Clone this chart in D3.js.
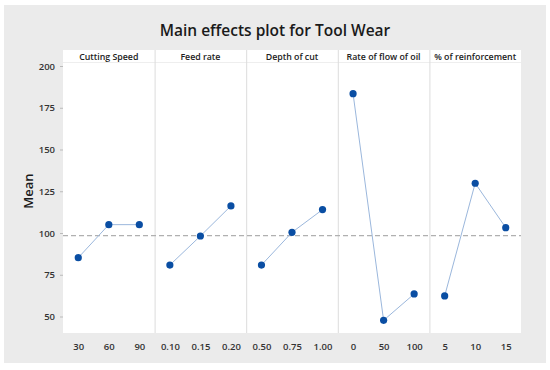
<!DOCTYPE html>
<html>
<head>
<meta charset="utf-8">
<script src="https://cdn.jsdelivr.net/npm/d3@7"></script>
<style>
  body { margin: 0; background: #fff; }
  svg { display: block; font-family: "Open Sans", "Noto Sans", sans-serif; }
</style>
</head>
<body>
<svg id="chart" width="550" height="370"></svg>
<script>
// Factors (one panel each)
const factors = ["Cutting Speed", "Feed rate", "Depth of cut", "Rate of flow of oil", "% of reinforcement"];

// Level labels per factor
const levels = [
  ["30", "60", "90"],
  ["0.10", "0.15", "0.20"],
  ["0.50", "0.75", "1.00"],
  ["0", "50", "100"],
  ["5", "10", "15"]
];

// Mean tool wear at each level
const means = [
  [85.2, 105.0, 105.0],
  [80.8, 98.2, 116.2],
  [80.8, 100.4, 114.0],
  [183.4, 47.7, 63.5],
  [62.3, 129.8, 103.2]
];

const grandMean = 98.4;
const yTicks = [50, 75, 100, 125, 150, 175, 200];

const svg = d3.select("#chart");

// Grey frame behind everything
svg.append("rect")
  .attr("x", 4).attr("y", 5)
  .attr("width", 542).attr("height", 358)
  .attr("fill", "#ebebeb");

// Plot region
const plotL = 63, plotR = 521, plotT = 50, plotB = 333;

svg.append("rect")
  .attr("x", plotL).attr("y", plotT)
  .attr("width", plotR - plotL).attr("height", plotB - plotT)
  .attr("fill", "#fff");

// Scales
const panel = d3.scaleBand().domain(factors).range([plotL, plotR]);
const y = d3.scaleLinear().domain([50, 200]).range([316.5, 66]);

// Title
svg.append("text")
  .attr("x", 275).attr("y", 36)
  .attr("text-anchor", "middle")
  .attr("font-size", 15.5)
  .attr("font-weight", 600)
  .attr("fill", "#1a1a1a")
  .text("Main effects plot for Tool Wear");

// Y axis label
svg.append("text")
  .attr("transform", "translate(33,191) rotate(-90)")
  .attr("text-anchor", "middle")
  .attr("font-size", 13)
  .attr("font-weight", 600)
  .attr("fill", "#1a1a1a")
  .text("Mean");

// Y axis
const yAxis = svg.append("g")
  .attr("transform", `translate(${plotL},0)`)
  .call(d3.axisLeft(y).tickValues(yTicks).tickSize(3).tickPadding(5));
yAxis.select(".domain").remove();
yAxis.selectAll("line").attr("stroke", "#bbb");
yAxis.selectAll("text")
  .attr("font-size", 9.5)
  .attr("font-family", "Open Sans, sans-serif")
  .attr("font-weight", 600)
  .attr("fill", "#333");

// Header line under panel titles
svg.append("line")
  .attr("x1", plotL).attr("x2", plotR)
  .attr("y1", 62.5).attr("y2", 62.5)
  .attr("stroke", "#eee");

// Panel separators
svg.selectAll("line.sep")
  .data(factors.slice(1))
  .join("line")
  .attr("class", "sep")
  .attr("x1", d => panel(d) + 0.5).attr("x2", d => panel(d) + 0.5)
  .attr("y1", plotT).attr("y2", plotB)
  .attr("stroke", "#dcdcdc");

// Reference line at the grand mean
svg.append("line")
  .attr("x1", plotL).attr("x2", plotR)
  .attr("y1", y(grandMean)).attr("y2", y(grandMean))
  .attr("stroke", "#b0b0b0")
  .attr("stroke-width", 1.2)
  .attr("stroke-dasharray", "5,3");

// Draw each panel
factors.forEach((f, i) => {
  const x = d3.scalePoint()
    .domain(levels[i])
    .range([panel(f), panel(f) + panel.bandwidth()])
    .padding(0.5);

  const g = svg.append("g");

  // Panel header
  g.append("text")
    .attr("x", panel(f) + panel.bandwidth() / 2)
    .attr("y", 60)
    .attr("text-anchor", "middle")
    .attr("font-size", 8.8)
    .attr("font-weight", 600)
    .attr("fill", "#222")
    .text(f);

  const pts = levels[i].map((l, j) => ({ l, v: means[i][j] }));

  g.append("path")
    .datum(pts)
    .attr("fill", "none")
    .attr("stroke", "#9bb7dc")
    .attr("stroke-width", 1)
    .attr("d", d3.line().x(d => x(d.l)).y(d => y(d.v)));

  g.selectAll("circle")
    .data(pts)
    .join("circle")
    .attr("cx", d => x(d.l))
    .attr("cy", d => y(d.v))
    .attr("r", 3.6)
    .attr("fill", "#0a4ea3");

  // X tick labels
  const xAxis = g.append("g")
    .attr("transform", `translate(0,${plotB})`)
    .call(d3.axisBottom(x).tickSize(0).tickPadding(10));
  xAxis.select(".domain").remove();
  xAxis.selectAll("text")
    .attr("font-size", 9.5)
    .attr("font-family", "Open Sans, sans-serif")
    .attr("font-weight", 600)
    .attr("fill", "#333");
});
</script>
</body>
</html>
